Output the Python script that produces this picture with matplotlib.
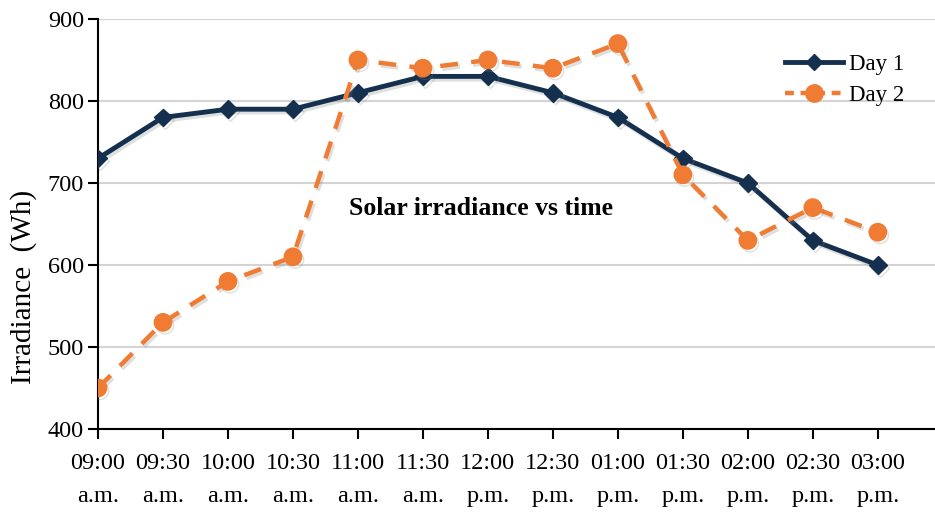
import matplotlib
matplotlib.use("Agg")
import matplotlib.pyplot as plt
import matplotlib.patheffects as pe
from matplotlib.lines import Line2D

times = ["09:00\na.m.", "09:30\na.m.", "10:00\na.m.", "10:30\na.m.", "11:00\na.m.",
         "11:30\na.m.", "12:00\np.m.", "12:30\np.m.", "01:00\np.m.", "01:30\np.m.",
         "02:00\np.m.", "02:30\np.m.", "03:00\np.m."]
day1 = [730, 780, 790, 790, 810, 830, 830, 810, 780, 730, 700, 630, 600]
day2 = [450, 530, 580, 610, 850, 840, 850, 840, 870, 710, 630, 670, 640]

NAVY = "#15304f"
ORANGE = "#f07b32"

plt.rcParams["font.family"] = ["Liberation Serif", "DejaVu Serif"]

fig = plt.figure(figsize=(9.35, 5.14), dpi=100)
ax = fig.add_axes([98 / 935, 85 / 514, 1 - 98 / 935, 410 / 514])

x = list(range(len(times)))
shadow = [pe.SimpleLineShadow(offset=(1.5, -2), alpha=0.25, shadow_color="gray"), pe.Normal()]

ax.plot(x, day1, color=NAVY, lw=3.5, marker="D", ms=9, zorder=3, path_effects=shadow)
ax.plot(x, day2, color=ORANGE, lw=3.2, ls=(0, (4, 3)), marker="o", ms=12.5, zorder=4,
        path_effects=shadow)

ax.set_ylim(400, 900)
ax.set_xlim(0, 12.88)
ax.set_yticks(range(400, 901, 100))
ax.set_xticks(x)
ax.set_xticklabels(times, linespacing=1.75)
ax.tick_params(axis="both", labelsize=17.5, colors="black", width=1.5, length=7)
ax.tick_params(axis="x", pad=10)
ax.tick_params(axis="y", pad=3)

ax.grid(axis="y", color="#d4d4d4", lw=1.5)
ax.set_axisbelow(True)
for s in ["top", "right"]:
    ax.spines[s].set_visible(False)
for s in ["left", "bottom"]:
    ax.spines[s].set_linewidth(1.5)

ax.set_ylabel("Irradiance  (Wh)", fontsize=21)
ax.yaxis.set_label_coords(-0.073, 0.346)

ax.text(0.4576, 0.539, "Solar irradiance vs time", transform=ax.transAxes,
        ha="center", va="center", fontsize=18.5, fontweight="bold")

handles = [
    Line2D([], [], color=NAVY, lw=3.5, marker="D", ms=8),
    Line2D([], [], color=ORANGE, lw=3.2, ls=(0, (2, 1.5)), marker="o", ms=12.5),
]
ax.legend(handles, ["Day 1", "Day 2"], loc="upper left", bbox_to_anchor=(0.7965, 0.966),
          frameon=False, fontsize=16.5, handlelength=2.5, handletextpad=0.27,
          labelspacing=0.45)

fig.savefig("out.png", dpi=100)
